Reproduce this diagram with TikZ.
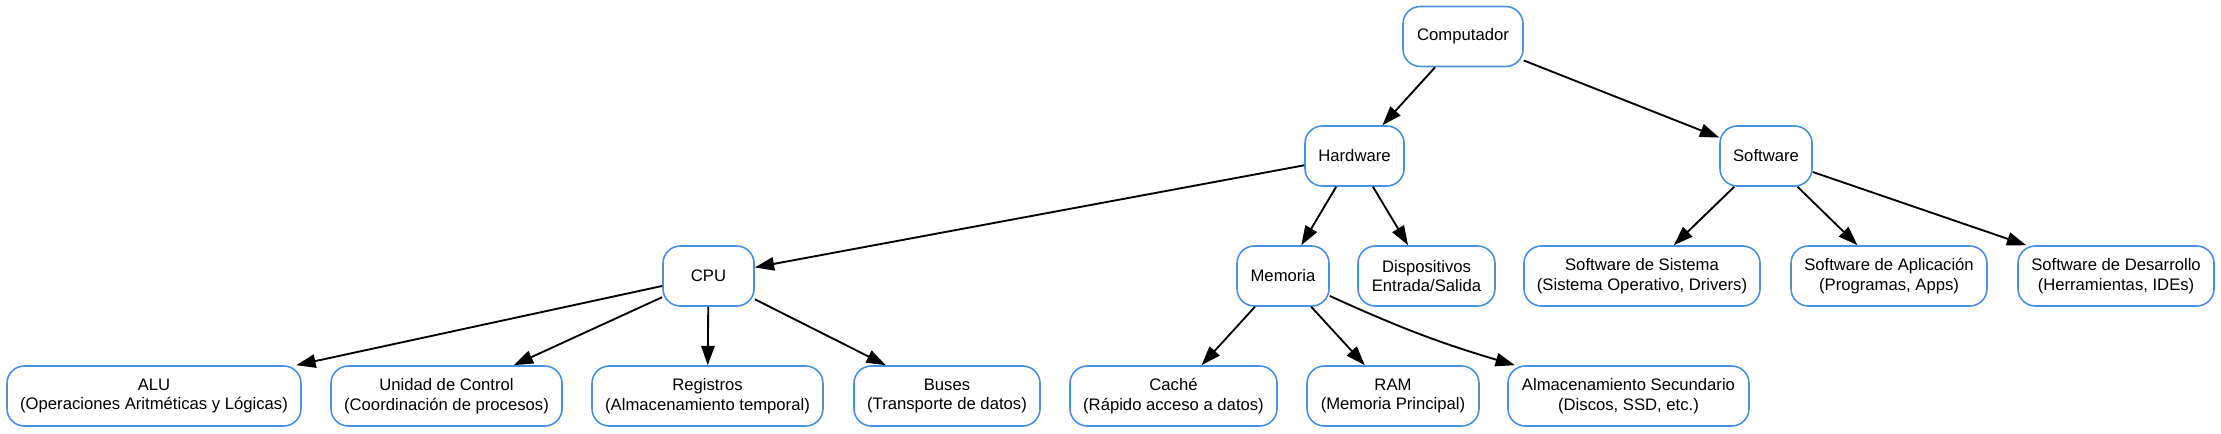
\documentclass[tikz,border=0pt]{standalone}
\usepackage{fontspec}
\setmainfont{Liberation Sans}
\usetikzlibrary{arrows.meta}
\definecolor{boxblue}{HTML}{4A90E2}
\begin{document}
\begin{tikzpicture}[x=0.75pt,y=-0.75pt,
  box/.style={draw=boxblue, line width=1.2pt, rounded corners=13pt, fill=white, align=center, inner sep=0pt, minimum height=45pt, font=\fontsize{12.5}{14.6}\selectfont},
  bw/.style={minimum width=#1*0.75pt},
  edge/.style={-{Triangle[length=14.5pt,width=10pt]}, line width=1.4pt, black}]
\useasboundingbox (0,0) rectangle (2221,433);
\node[box,bw=120] (comp) at (1463,36.5) {Computador};
\node[box,bw=99] (hw) at (1354.5,156) {Hardware};
\node[box,bw=92] (sw) at (1766,156) {Software};
\node[box,bw=91] (cpu) at (708.5,276) {CPU};
\node[box,bw=92] (mem) at (1283,276) {Memoria};
\node[box,bw=137] (dis) at (1426.5,276) {Dispositivos\\Entrada/Salida};
\node[box,bw=236] (sds) at (1642,276) {Software de Sistema\\(Sistema Operativo, Drivers)};
\node[box,bw=196] (sda) at (1889,276) {Software de Aplicación\\(Programas, Apps)};
\node[box,bw=196] (sdd) at (2116,276) {Software de Desarrollo\\(Herramientas, IDEs)};
\node[box,bw=294] (alu) at (154,396) {ALU\\(Operaciones Aritméticas y Lógicas)};
\node[box,bw=231] (uc) at (446.5,396) {Unidad de Control\\(Coordinación de procesos)};
\node[box,bw=231] (reg) at (707.5,396) {Registros\\(Almacenamiento temporal)};
\node[box,bw=186] (bus) at (947,396) {Buses\\(Transporte de datos)};
\node[box,bw=207] (cache) at (1173.5,396) {Caché\\(Rápido acceso a datos)};
\node[box,bw=172] (ram) at (1393,396) {RAM\\(Memoria Principal)};
\node[box,bw=241] (alm) at (1628.5,396) {Almacenamiento Secundario\\(Discos, SSD, etc.)};
\draw[edge] (comp) -- (hw);
\draw[edge] (comp) -- (sw);
\draw[edge] (hw) -- (cpu);
\draw[edge] (hw) -- (mem);
\draw[edge] (hw) -- (dis);
\draw[edge] (sw) -- (sds);
\draw[edge] (sw) -- (sda);
\draw[edge] (sw) -- (sdd);
\draw[edge] (cpu) -- (alu);
\draw[edge] (cpu) -- (uc);
\draw[edge] (cpu) -- (reg);
\draw[edge] (cpu) -- (bus);
\draw[edge] (mem) -- (cache);
\draw[edge] (mem) -- (ram);
\draw[edge] (mem) to[bend right=4] (alm);
\end{tikzpicture}
\end{document}
